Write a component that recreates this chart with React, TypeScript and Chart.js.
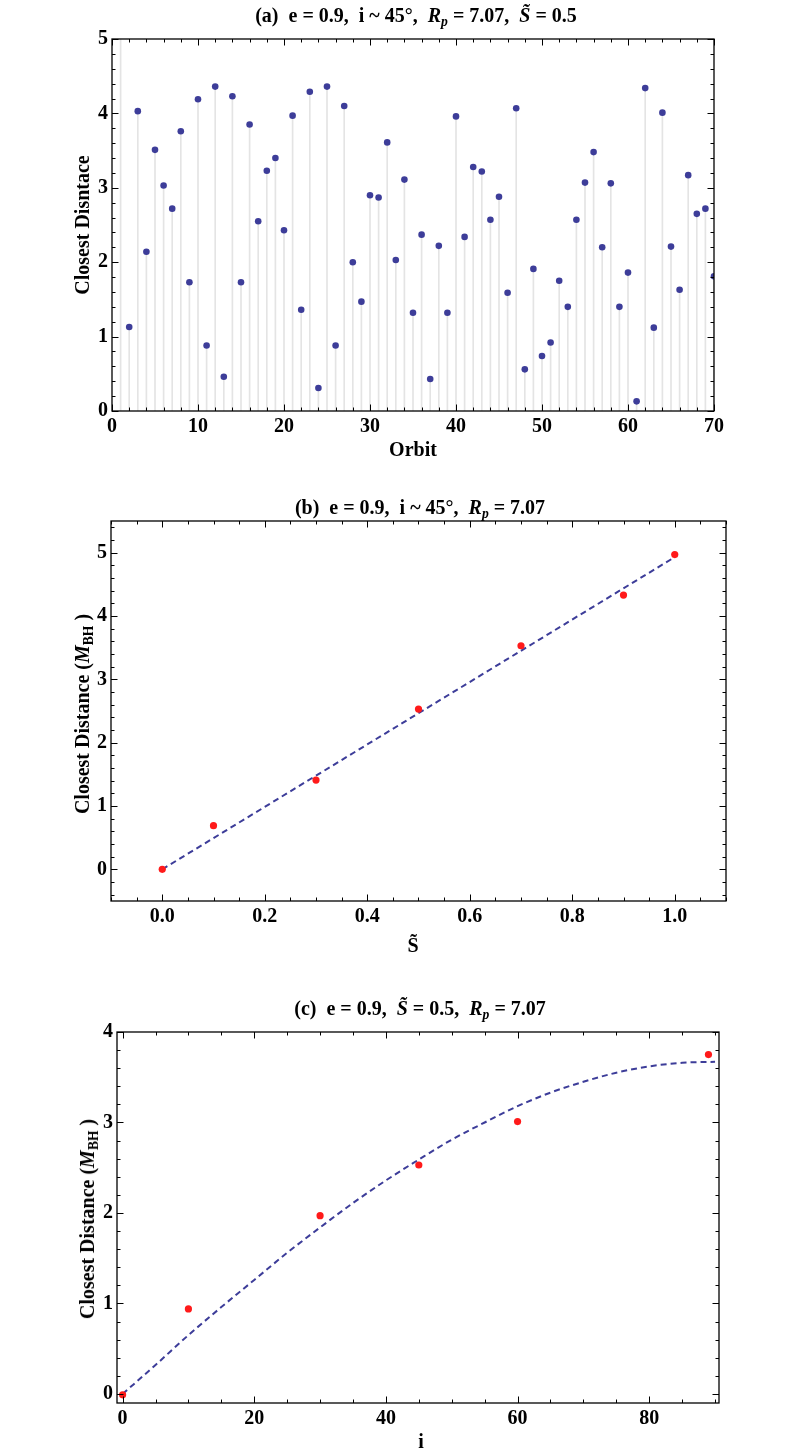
import React, { useEffect, useRef } from 'react';
import { Chart, registerables } from 'chart.js';

Chart.register(...registerables);

// ---- panel (a): closest distance per orbit
const orbits = [
  1, 2, 3, 4, 5, 6, 7, 8, 9, 10, 11, 12, 13, 14, 15, 16, 17, 18, 19, 20,
  21, 22, 23, 24, 25, 26, 27, 28, 29, 30, 31, 32, 33, 34, 35, 36, 37, 38, 39, 40,
  41, 42, 43, 44, 45, 46, 47, 48, 49, 50, 51, 52, 53, 54, 55, 56, 57, 58, 59, 60,
  61, 62, 63, 64, 65, 66, 67, 68, 69, 70,
];
const closestA = [
  5.6, 1.13, 4.03, 2.14, 3.51, 3.03, 2.72, 3.76, 1.73, 4.19,
  0.88, 4.36, 0.46, 4.23, 1.73, 3.85, 2.55, 3.23, 3.4, 2.43,
  3.97, 1.36, 4.29, 0.31, 4.36, 0.88, 4.1, 2.0, 1.47, 2.9,
  2.87, 3.61, 2.03, 3.11, 1.32, 2.37, 0.43, 2.22, 1.32, 3.96,
  2.34, 3.28, 3.22, 2.57, 2.88, 1.59, 4.07, 0.56, 1.91, 0.74,
  0.92, 1.75, 1.4, 2.57, 3.07, 3.48, 2.2, 3.06, 1.4, 1.86,
  0.13, 4.34, 1.12, 4.01, 2.21, 1.63, 3.17, 2.65, 2.72, 1.81,
];
const ticksAx = [0, 10, 20, 30, 40, 50, 60, 70];
const ticksAy = [0, 1, 2, 3, 4, 5];

// ---- panel (b): closest distance vs spin
const spinB = [0, 0.1, 0.3, 0.5, 0.7, 0.9, 1.0];
const closestB = [0, 0.69, 1.41, 2.53, 3.53, 4.33, 4.97];
const fitSpinB = [0, 1.0];
const fitClosestB = [0, 4.93];
const ticksBx = [0, 0.2, 0.4, 0.6, 0.8, 1.0];
const ticksBy = [0, 1, 2, 3, 4, 5];

// ---- panel (c): closest distance vs inclination
const inclC = [0, 10, 30, 45, 60, 89];
const closestC = [-0.01, 0.94, 1.97, 2.53, 3.01, 3.75];
const fitInclC = [0, 5, 10, 15, 20, 25, 30, 35, 40, 45, 50, 55, 60, 65, 70, 75, 80, 85, 90];
const fitClosestC = [
  0, 0.32, 0.65, 0.96, 1.26, 1.56, 1.84, 2.11, 2.36, 2.59,
  2.81, 3.0, 3.18, 3.33, 3.45, 3.55, 3.62, 3.66, 3.67,
];
const ticksCx = [0, 20, 40, 60, 80];
const ticksCy = [0, 1, 2, 3, 4];

const FONT = '"Liberation Serif", "Times New Roman", serif';
const BLUE = '#3d3d99';
const RED = '#ff1a1a';
const Y_AXIS_W = 50;
const X_AXIS_H = 36;

const toPoints = (xs: number[], ys: number[]) => xs.map((x, i) => ({ x, y: ys[i] }));

// Mathematica-like frame with inward major/minor ticks on all four sides
const framePlugin = {
  id: 'frame',
  afterDraw(chart: any, _args: any, opts: any) {
    const { ctx, chartArea: a } = chart;
    const xs = chart.scales.x;
    const ys = chart.scales.y;
    const isMajor = (v: number, list: number[]) => list.some((m) => Math.abs(m - v) < 1e-6);
    const minors = (min: number, max: number, step: number) => {
      const out: number[] = [];
      for (let k = Math.ceil(min / step - 1e-6); k * step <= max + 1e-6; k++) out.push(k * step);
      return out;
    };
    ctx.save();
    ctx.strokeStyle = '#000';
    ctx.lineWidth = 1;
    const seg = (x1: number, y1: number, x2: number, y2: number) => {
      ctx.beginPath();
      ctx.moveTo(x1, y1);
      ctx.lineTo(x2, y2);
      ctx.stroke();
    };
    for (const v of minors(xs.min, xs.max, opts.xMinor)) {
      const px = Math.round(xs.getPixelForValue(v)) + 0.5;
      const len = isMajor(v, opts.xMajor) ? 6.5 : 3.5;
      seg(px, a.bottom, px, a.bottom - len);
      seg(px, a.top, px, a.top + len);
    }
    for (const v of minors(ys.min, ys.max, opts.yMinor)) {
      const py = Math.round(ys.getPixelForValue(v)) + 0.5;
      const len = isMajor(v, opts.yMajor) ? 6.5 : 3.5;
      seg(a.left, py, a.left + len, py);
      seg(a.right, py, a.right - len, py);
    }
    ctx.lineWidth = 1.3;
    ctx.strokeRect(a.left, a.top, a.right - a.left, a.bottom - a.top);
    ctx.restore();
  },
};

type Area = { left: number; right: number; top: number; bottom: number };

type PanelProps = {
  top: number;
  height: number;
  area: Area;
  datasets: any[];
  xRange: [number, number];
  yRange: [number, number];
  xTicks: number[];
  yTicks: number[];
  xMinor: number;
  yMinor: number;
  xFormat?: (v: number) => string;
};

const Panel = (props: PanelProps) => {
  const canvasRef = useRef<HTMLCanvasElement | null>(null);

  useEffect(() => {
    if (!canvasRef.current) return;
    const { area, top, height } = props;
    const tickFont = { family: FONT, size: 20, weight: 'bold' as const };
    const chart = new Chart(canvasRef.current, {
      type: 'scatter',
      data: { datasets: props.datasets },
      plugins: [framePlugin],
      options: {
        animation: false,
        responsive: true,
        maintainAspectRatio: false,
        events: [],
        layout: {
          padding: {
            left: area.left - Y_AXIS_W,
            right: 800 - area.right,
            top: area.top - top,
            bottom: top + height - area.bottom - X_AXIS_H,
          },
        },
        plugins: {
          legend: { display: false },
          tooltip: { enabled: false },
          title: { display: false },
          frame: {
            xMajor: props.xTicks,
            yMajor: props.yTicks,
            xMinor: props.xMinor,
            yMinor: props.yMinor,
          },
        } as any,
        scales: {
          x: {
            type: 'linear',
            min: props.xRange[0],
            max: props.xRange[1],
            offset: false,
            grid: { display: false, drawTicks: false },
            border: { display: false },
            afterBuildTicks: (s: any) => {
              s.ticks = props.xTicks.map((value) => ({ value }));
            },
            afterFit: (s: any) => {
              s.height = X_AXIS_H;
            },
            ticks: {
              autoSkip: false,
              maxRotation: 0,
              padding: 4,
              color: '#000',
              font: tickFont,
              callback: (v: any) => (props.xFormat ? props.xFormat(Number(v)) : String(v)),
            },
          },
          y: {
            type: 'linear',
            min: props.yRange[0],
            max: props.yRange[1],
            grid: { display: false, drawTicks: false },
            border: { display: false },
            afterBuildTicks: (s: any) => {
              s.ticks = props.yTicks.map((value) => ({ value }));
            },
            afterFit: (s: any) => {
              s.width = Y_AXIS_W;
            },
            ticks: {
              autoSkip: false,
              padding: 4,
              color: '#000',
              font: tickFont,
              callback: (v: any) => String(v),
            },
          },
        },
      } as any,
    });
    return () => {
      chart.destroy();
    };
  }, [props]);

  return (
    <div style={{ position: 'absolute', left: 0, top: props.top, width: 800, height: props.height }}>
      <canvas ref={canvasRef} />
    </div>
  );
};

const textBase: React.CSSProperties = {
  position: 'absolute',
  fontFamily: FONT,
  fontWeight: 'bold',
  fontSize: 20,
  color: '#000',
  whiteSpace: 'pre',
  lineHeight: 1,
};

const subStyle: React.CSSProperties = {
  fontSize: '0.68em',
  verticalAlign: 'baseline',
  position: 'relative',
  top: '0.3em',
};

const Label = (p: { x: number; y: number; rotate?: boolean; size?: number; children: React.ReactNode }) => (
  <div
    style={{
      ...textBase,
      fontSize: p.size ?? 20,
      left: p.x,
      top: p.y,
      transform: `translate(-50%, -50%)${p.rotate ? ' rotate(-90deg)' : ''}`,
    }}
  >
    {p.children}
  </div>
);

const Rp = () => (
  <>
    <i>R</i>
    <span style={{ ...subStyle, fontStyle: 'italic' }}>p</span>
  </>
);
const Stilde = (p: { italic?: boolean }) => (p.italic ? <i>S&#771;</i> : <>S&#771;</>);
const Mbh = () => (
  <>
    <i>M</i>
    <span style={subStyle}>BH</span>
  </>
);

const stemAndDots = [
  {
    type: 'scatter',
    data: toPoints(orbits, closestA),
    pointRadius: 3.3,
    pointBackgroundColor: BLUE,
    pointBorderWidth: 0,
    clip: 0,
  },
  {
    type: 'bar',
    data: toPoints(orbits, closestA),
    backgroundColor: '#e4e4e4',
    barThickness: 1,
    borderWidth: 0,
    clip: 0,
  },
];

const spinSets = [
  {
    type: 'scatter',
    data: toPoints(spinB, closestB),
    pointRadius: 3.6,
    pointBackgroundColor: RED,
    pointBorderWidth: 0,
    clip: 0,
  },
  {
    type: 'line',
    data: toPoints(fitSpinB, fitClosestB),
    borderColor: BLUE,
    borderWidth: 2,
    borderDash: [6, 4],
    pointRadius: 0,
    fill: false,
    clip: 0,
  },
];

const inclSets = [
  {
    type: 'scatter',
    data: toPoints(inclC, closestC),
    pointRadius: 3.6,
    pointBackgroundColor: RED,
    pointBorderWidth: 0,
    clip: 0,
  },
  {
    type: 'line',
    data: toPoints(fitInclC, fitClosestC),
    borderColor: BLUE,
    borderWidth: 2,
    borderDash: [6, 4],
    pointRadius: 0,
    cubicInterpolationMode: 'monotone',
    fill: false,
    clip: 0,
  },
];

const panelA = {
  top: 0,
  height: 470,
  area: { left: 112, right: 714, top: 39, bottom: 411 },
  datasets: stemAndDots,
  xRange: [0, 70] as [number, number],
  yRange: [0, 5] as [number, number],
  xTicks: ticksAx,
  yTicks: ticksAy,
  xMinor: 2,
  yMinor: 0.2,
};

const panelB = {
  top: 480,
  height: 490,
  area: { left: 111, right: 726, top: 521, bottom: 901 },
  datasets: spinSets,
  xRange: [-0.1, 1.1] as [number, number],
  yRange: [-0.5, 5.5] as [number, number],
  xTicks: ticksBx,
  yTicks: ticksBy,
  xMinor: 0.05,
  yMinor: 0.2,
  xFormat: (v: number) => v.toFixed(1),
};

const panelC = {
  top: 975,
  height: 480,
  area: { left: 117, right: 719, top: 1032, bottom: 1403 },
  datasets: inclSets,
  xRange: [-0.85, 90.6] as [number, number],
  yRange: [-0.1, 4.0] as [number, number],
  xTicks: ticksCx,
  yTicks: ticksCy,
  xMinor: 5,
  yMinor: 0.2,
};

export default function App() {
  return (
    <div style={{ position: 'absolute', left: 0, top: 0, width: 800, height: 1455, background: '#fff' }}>
      <Panel {...panelA} />
      <Panel {...panelB} />
      <Panel {...panelC} />

      <Label x={416} y={15}>
        (a)  e = 0.9,  i ~ 45°,  <Rp /> = 7.07,  <Stilde italic /> = 0.5
      </Label>
      <Label x={413} y={449}>Orbit</Label>
      <Label x={82} y={225} rotate>
        Closest Disntace
      </Label>

      <Label x={420} y={507}>
        (b)  e = 0.9,  i ~ 45°,  <Rp /> = 7.07
      </Label>
      <Label x={413} y={945}>
        <Stilde />
      </Label>
      <Label x={82} y={714} rotate>
        Closest Distance (<Mbh /> )
      </Label>

      <Label x={420} y={1008}>
        (c)  e = 0.9,  <Stilde italic /> = 0.5,  <Rp /> = 7.07
      </Label>
      <Label x={421} y={1441}>i</Label>
      <Label x={87} y={1219} rotate>
        Closest Distance (<Mbh /> )
      </Label>
    </div>
  );
}
